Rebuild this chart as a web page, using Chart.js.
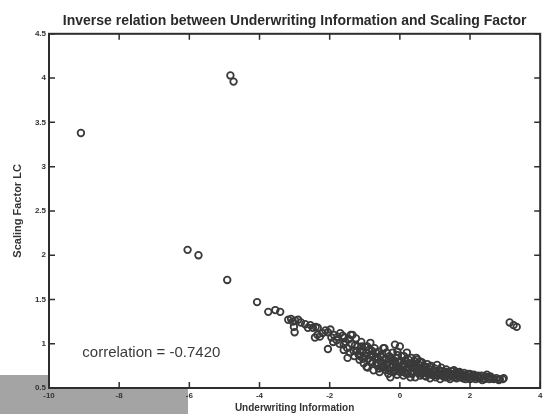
<!DOCTYPE html>
<html><head><meta charset="utf-8">
<script src="https://cdn.jsdelivr.net/npm/chart.js@4.4.1/dist/chart.umd.min.js"></script>
<style>html,body{margin:0;padding:0;background:#fff}#wrap{width:546px;height:414px}</style>
</head><body><div id="wrap"><canvas id="c" width="546" height="414"></canvas></div>
<script>
const titleText = 'Inverse relation between Underwriting Information and Scaling Factor';
const xAxisTitle = 'Underwriting Information';
const yAxisTitle = 'Scaling Factor LC';
const annotationText = 'correlation = -0.7420';
const xTickLabels = ['-10','-8','-6','-4','-2','0','2','4'];
const yTickLabels = ['0.5','1','1.5','2','2.5','3','3.5','4','4.5'];

// [Underwriting Information, Scaling Factor LC]
const leftOutliers = [[-9.09,3.38],[-4.83,4.03],[-4.74,3.96],[-6.05,2.06],[-5.74,2.00],[-4.92,1.72],[-4.07,1.47],[-3.75,1.36],[-3.55,1.38],[-3.41,1.36]];
const rightOutliers = [[3.13,1.24],[3.24,1.21],[3.33,1.19]];
const bandUpper = [[-3.18,1.27],[-3.10,1.28],[-3.05,1.25],[-2.98,1.26],[-3.02,1.19],[-3.00,1.13],[-2.90,1.27],[-2.82,1.24],[-2.70,1.22],[-2.62,1.18],[-2.55,1.21],[-2.48,1.18],[-2.40,1.19],[-2.34,1.18],[-2.42,1.07],[-2.35,1.10],[-2.28,1.08],[-2.20,1.12],[-2.12,1.15],[-2.05,1.13],[-2.05,0.94],[-1.98,1.16],
 [-1.95,1.07],[-1.88,1.10],[-1.80,1.04],[-1.77,1.08],[-1.70,1.12],[-1.63,1.09],[-1.60,0.99],[-1.55,1.02],[-1.50,0.95],[-1.49,0.84],[-1.45,1.05],[-1.40,1.10],[-1.35,1.10],[-1.32,0.92],[-1.28,0.98],[-1.25,1.06],[-1.20,0.97],[-1.18,0.88],[-1.15,0.82],[-1.12,0.92],[-1.10,1.02],[-1.06,0.91],[-1.03,0.78],[-1.00,0.86],[-0.98,0.96],[-1.30,0.86],[-1.42,0.90],[-1.60,0.93],[-0.96,0.90],
 [-1.90,1.02],[-1.72,1.00],[-1.58,1.07],[-1.38,1.00],[-1.22,0.92],[-1.08,0.97],[-1.14,0.86],[-1.05,0.83]];
const bandMiddle = [[-0.95,0.74],[-0.92,0.73],[-0.90,0.83],[-0.88,0.93],[-0.84,1.01],[-0.82,0.88],[-0.78,0.79],[-0.75,0.70],[-0.72,0.95],[-0.70,0.84],[-0.66,0.76],[-0.64,0.85],[-0.60,0.91],[-0.58,0.68],[-0.55,0.80],[-0.52,0.73],[-0.50,0.88],[-0.47,0.95],[-0.44,0.95],[-0.42,0.82],[-0.40,0.70],[-0.37,0.76],[-0.35,0.78],[-0.33,0.66],[-0.30,0.86],[-0.27,0.62],[-0.25,0.73],[-0.22,0.81],[-0.20,0.90],[-0.18,0.68],[-0.16,0.70],[-0.14,0.99],[-0.12,0.77],[-0.10,0.84],[-0.08,0.65],[-0.07,0.91],[-0.04,0.72],[-0.02,0.79],[0.00,0.97],
 [-0.85,0.80],[-0.62,0.78],[-0.45,0.74],[-0.28,0.70],[-0.11,0.73],[-0.68,0.90],[-0.32,0.82],
 [-0.93,0.97],[-0.80,0.92],[-0.77,0.86],[-0.60,0.72],[-0.56,0.86],[-0.49,0.78],[-0.38,0.90],[-0.36,0.72],[-0.24,0.84],[-0.21,0.76],[-0.15,0.80],[-0.06,0.87],[-0.03,0.69],
 [0.02,0.68],[0.05,0.86],[0.08,0.74],[0.10,0.64],[0.13,0.76],[0.15,0.81],[0.18,0.70],[0.20,0.90],[0.23,0.66],[0.26,0.78],[0.28,0.73],[0.30,0.62],[0.33,0.84],[0.36,0.69],[0.38,0.75],[0.41,0.80],[0.44,0.62],[0.46,0.71],[0.50,0.82],[0.52,0.67],[0.55,0.76],[0.58,0.64],[0.60,0.72],[0.63,0.79],[0.66,0.68],[0.69,0.70],[0.72,0.74],[0.75,0.63],[0.78,0.77],[0.80,0.66],[0.83,0.71],[0.86,0.61],[0.90,0.75],[0.93,0.68],[0.96,0.64],[0.99,0.72],
 [0.07,0.70],[0.21,0.72],[0.35,0.66],[0.48,0.68],[0.62,0.66],[0.77,0.69],[0.92,0.65],[0.10,0.78],[0.40,0.76],
 [0.03,0.80],[0.12,0.86],[0.16,0.67],[0.25,0.82],[0.31,0.77],[0.43,0.72],[0.47,0.84],[0.54,0.70],[0.57,0.80],[0.67,0.74],[0.70,0.64],[0.74,0.67],[0.85,0.74],[0.88,0.67],[0.97,0.69]];
const bandLower = [[1.02,0.62],[1.06,0.76],[1.09,0.67],[1.12,0.70],[1.15,0.60],[1.18,0.73],[1.22,0.65],[1.26,0.68],[1.29,0.62],[1.32,0.71],[1.36,0.64],[1.40,0.67],[1.43,0.60],[1.47,0.69],[1.50,0.63],[1.54,0.70],[1.58,0.65],[1.62,0.61],[1.66,0.67],[1.70,0.68],[1.74,0.62],[1.78,0.65],[1.83,0.67],[1.87,0.60],[1.91,0.64],[1.95,0.62],[1.99,0.66],
 [1.08,0.64],[1.24,0.63],[1.38,0.62],[1.52,0.66],[1.68,0.63],[1.85,0.63],[2.00,0.60],
 [1.04,0.69],[1.13,0.66],[1.20,0.69],[1.31,0.66],[1.34,0.68],[1.45,0.65],[1.56,0.62],[1.61,0.68],[1.73,0.66],[1.80,0.61],[1.93,0.66],
 [2.04,0.61],[2.08,0.64],[2.11,0.65],[2.16,0.60],[2.20,0.63],[2.25,0.61],[2.30,0.62],[2.35,0.59],[2.39,0.61],[2.44,0.63],[2.48,0.65],[2.55,0.60],[2.62,0.61],[2.82,0.59],[2.85,0.60],[2.93,0.60],[2.96,0.61],
 [2.06,0.63],[2.14,0.62],[2.23,0.64],[2.33,0.64],[2.42,0.60],[2.52,0.62],[2.58,0.63],[2.68,0.60],[2.75,0.61]];

const annotationX = -9.05, annotationY = 0.9;
const FONT = 'Arial, "Liberation Sans", sans-serif';
Chart.defaults.font.family = FONT;

const allPoints = [].concat(leftOutliers, bandUpper, bandMiddle, bandLower, rightOutliers).map(p => ({x:p[0], y:p[1]}));

const framePlugin = {
  id: 'frame',
  beforeDraw(chart) {
    const {ctx, chartArea: a, width, height} = chart;
    ctx.save();
    ctx.fillStyle = '#fff';
    ctx.fillRect(0, 0, width, height);
    // scanned-page shading at lower left
    ctx.fillStyle = '#a4a4a4';
    ctx.fillRect(0, a.bottom - 13, a.left, height - a.bottom + 13);
    ctx.fillRect(a.left, a.bottom, 139, height - a.bottom);
    ctx.restore();
  },
  afterDatasetsDraw(chart) {
    const {ctx, chartArea: a, scales} = chart;
    const xs = scales.x, ys = scales.y;
    ctx.save();
    ctx.strokeStyle = '#2e2e2e';
    ctx.lineWidth = 2;
    ctx.strokeRect(a.left, a.top, a.right - a.left, a.bottom - a.top);
    ctx.lineWidth = 1.5;
    const L = 6;
    ctx.beginPath();
    xs.ticks.forEach((t, i) => {
      const px = xs.getPixelForTick(i);
      ctx.moveTo(px, a.bottom); ctx.lineTo(px, a.bottom - L);
      ctx.moveTo(px, a.top); ctx.lineTo(px, a.top + L);
    });
    ys.ticks.forEach((t, i) => {
      const py = ys.getPixelForTick(i);
      ctx.moveTo(a.left, py); ctx.lineTo(a.left + L, py);
      ctx.moveTo(a.right, py); ctx.lineTo(a.right - L, py);
    });
    ctx.stroke();
    ctx.fillStyle = '#3a3a3a';
    ctx.font = '15px ' + FONT;
    ctx.textBaseline = 'middle';
    ctx.textAlign = 'left';
    ctx.fillText(annotationText, xs.getPixelForValue(annotationX), ys.getPixelForValue(annotationY));
    ctx.restore();
  }
};

new Chart(document.getElementById('c'), {
  type: 'scatter',
  data: { datasets: [{
    data: allPoints,
    pointStyle: 'circle',
    pointRadius: 3.3,
    pointBorderWidth: 1.8,
    pointBorderColor: '#3a3a3a',
    pointBackgroundColor: 'rgba(255,255,255,0)',
    borderColor: '#3a3a3a',
    backgroundColor: 'rgba(255,255,255,0)'
  }]},
  options: {
    responsive: false, animation: false, devicePixelRatio: 1,
    layout: { padding: { left: 0, right: 3, top: 0, bottom: 0 } },
    plugins: {
      legend: { display: false }, tooltip: { enabled: false },
      title: { display: true, fullSize: false, text: titleText, color: '#2a2a2a',
        font: { size: 14, weight: 'bold', family: FONT }, padding: { top: 13, bottom: 4 } }
    },
    scales: {
      x: {
        type: 'linear', min: -10, max: 4, position: 'bottom',
        afterFit(s) { s.height = 26; },
        grid: { display: false, drawTicks: false }, border: { display: false },
        ticks: { stepSize: 2, padding: 3, color: '#333', font: { size: 8, weight: 'bold' }, maxRotation: 0, autoSkip: false,
          callback: (v, i) => xTickLabels[i] },
        title: { display: true, text: xAxisTitle, color: '#333', font: { size: 10, weight: 'bold' }, padding: { top: 0, bottom: 0 } }
      },
      y: {
        type: 'linear', min: 0.5, max: 4.5, position: 'left',
        afterFit(s) { s.width = 49; },
        grid: { display: false, drawTicks: false }, border: { display: false },
        ticks: { stepSize: 0.5, padding: 3, color: '#333', font: { size: 8, weight: 'bold' }, autoSkip: false,
          callback: (v, i) => yTickLabels[i] },
        title: { display: true, text: yAxisTitle, color: '#333', font: { size: 11, weight: 'bold' }, padding: { top: 11, bottom: 0 } }
      }
    }
  },
  plugins: [framePlugin]
});
</script>
</body></html>
